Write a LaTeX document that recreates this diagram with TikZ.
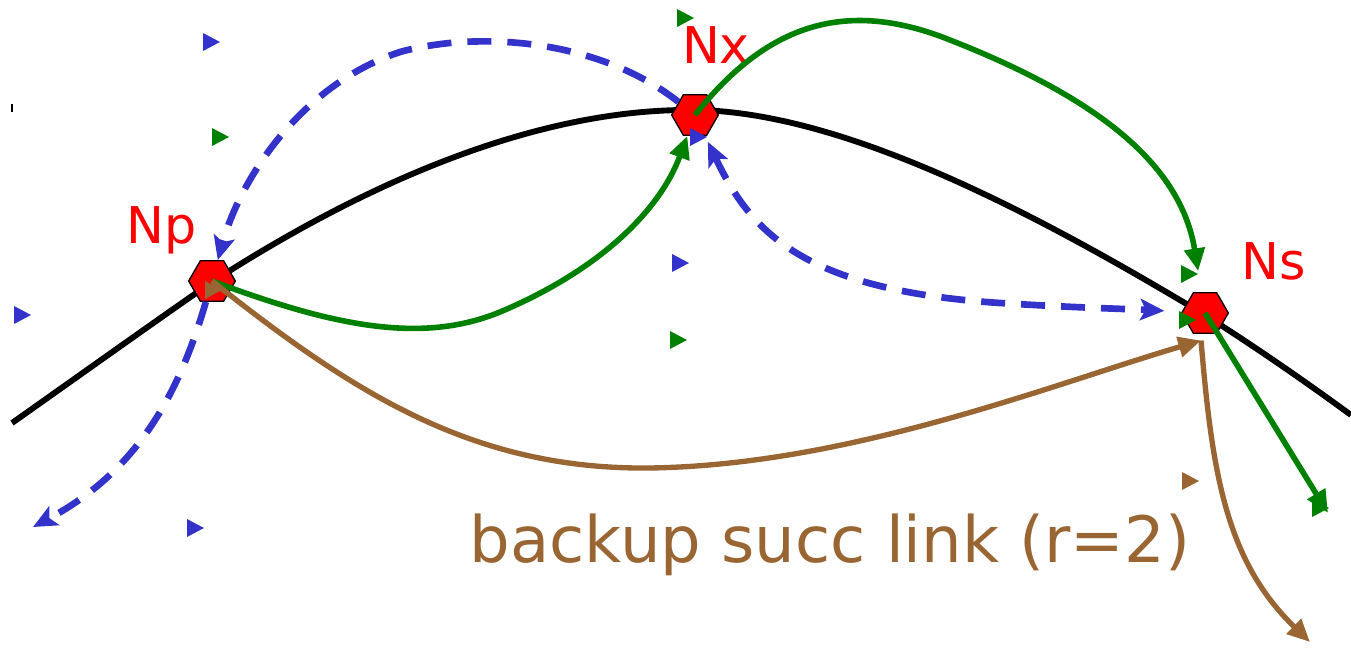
\documentclass[tikz,border=0pt]{standalone}
\usepackage{fontspec}
\setmainfont{DejaVu Sans}
\usepackage{tikz}
\usetikzlibrary{shapes.geometric,arrows.meta,positioning}
\definecolor{linkblue}{RGB}{51,51,204}
\definecolor{linkgreen}{RGB}{0,128,0}
\definecolor{linkbrown}{RGB}{153,102,51}
\tikzset{
  hexnode/.style={regular polygon,regular polygon sides=6,minimum size=35pt,inner sep=0pt,fill=red,draw=black,line width=1pt},
  nodelabel/.style={text=red,font=\fontsize{38}{40}\selectfont},
  ring/.style={line width=4.4pt},
  succ/.style={draw=linkgreen,line width=4.2pt,-{Triangle[length=17pt,width=15pt]}},
  pred/.style={draw=linkblue,line width=5pt,dash pattern=on 18pt off 12pt,-{Stealth[length=18pt,width=16pt,inset=4pt]}},
  backup/.style={draw=linkbrown,line width=4pt,-{Triangle[length=17pt,width=15pt]}}
}

\begin{document}
\begin{tikzpicture}[x=0.75pt,y=-0.75pt]
\useasboundingbox (0,0) rectangle (1351,648);
% Anel
\draw[ring] (12,423) .. controls (80,375) and (150,325) .. (212,282)
  .. controls (370,180) and (540,108) .. (695,110)
  .. controls (850,112) and (1050,222) .. (1205,315)
  .. controls (1260,350) and (1310,385) .. (1351,415);
\draw[line width=1.5pt] (12,104) -- (12,112);
% Nos
\node[hexnode] (Np) at (212,281) {};
\node[hexnode] (Nx) at (695,115) {};
\node[hexnode] (Ns) at (1205,313) {};
\node[nodelabel] (NpText) at (162,230) {Np};
\node[nodelabel] (NxText) at (716,45) {Nx};
\node[nodelabel] (NsText) at (1274,261) {Ns};
\coordinate (NsFoot) at ([xshift=-3pt,yshift=-5pt]Ns.south);
\coordinate (succEnd) at (1328,513);
\coordinate (predEnd) at (33,527);
\coordinate (backupEnd) at (1310,642);
% Sucessores
\draw[succ] (Np.center) .. controls (330,325) and (420,345) .. (500,312)
  .. controls (600,270) and (660,210) .. (Nx);
\draw[succ,shorten >=16pt] (Nx.center) .. controls (770,20) and (850,0) .. (950,40)
  .. controls (1090,95) and (1180,160) .. (Ns);
\draw[succ] (Ns.center) -- (succEnd);
% Predecessores
\draw[pred] (Nx) .. controls (600,40) and (480,30) .. (400,52)
  .. controls (300,85) and (240,180) .. (Np);
\draw[pred,{Stealth[length=18pt,width=16pt,inset=4pt]}-{Stealth[length=18pt,width=16pt,inset=4pt]},shorten <=5pt,shorten >=13pt]
  (Nx) .. controls (750,230) and (800,290) .. (1000,303)
  .. controls (1080,308) and (1130,309) .. (Ns);
\draw[pred] (Np) .. controls (180,390) and (140,470) .. (predEnd);
% Backup
\draw[backup] (Np.center) .. controls (350,390) and (470,470) .. (650,468)
  .. controls (850,465) and (1050,385) .. (NsFoot);
\draw[backup] (NsFoot) .. controls (1212,470) and (1225,560) .. (backupEnd);
\node[text=linkbrown,font=\fontsize{48}{50}\selectfont,anchor=base] (backupText) at (830,562) {backup succ link (r=2)};
% Marcadores
\foreach \x/\y/\c in {211/42/linkblue,220/137/linkgreen,685/18/linkgreen,22/315/linkblue,
  680/263/linkblue,678/340/linkgreen,195/528/linkblue,1190/481/linkbrown,1189/274/linkgreen,
  698/137/linkblue,1187/320/linkgreen,213/290/linkbrown,1320/508/linkgreen}
  \fill[\c] (\x,\y) +(-8,-9) -- +(9,0) -- +(-8,9) -- cycle;
\end{tikzpicture}
\end{document}
